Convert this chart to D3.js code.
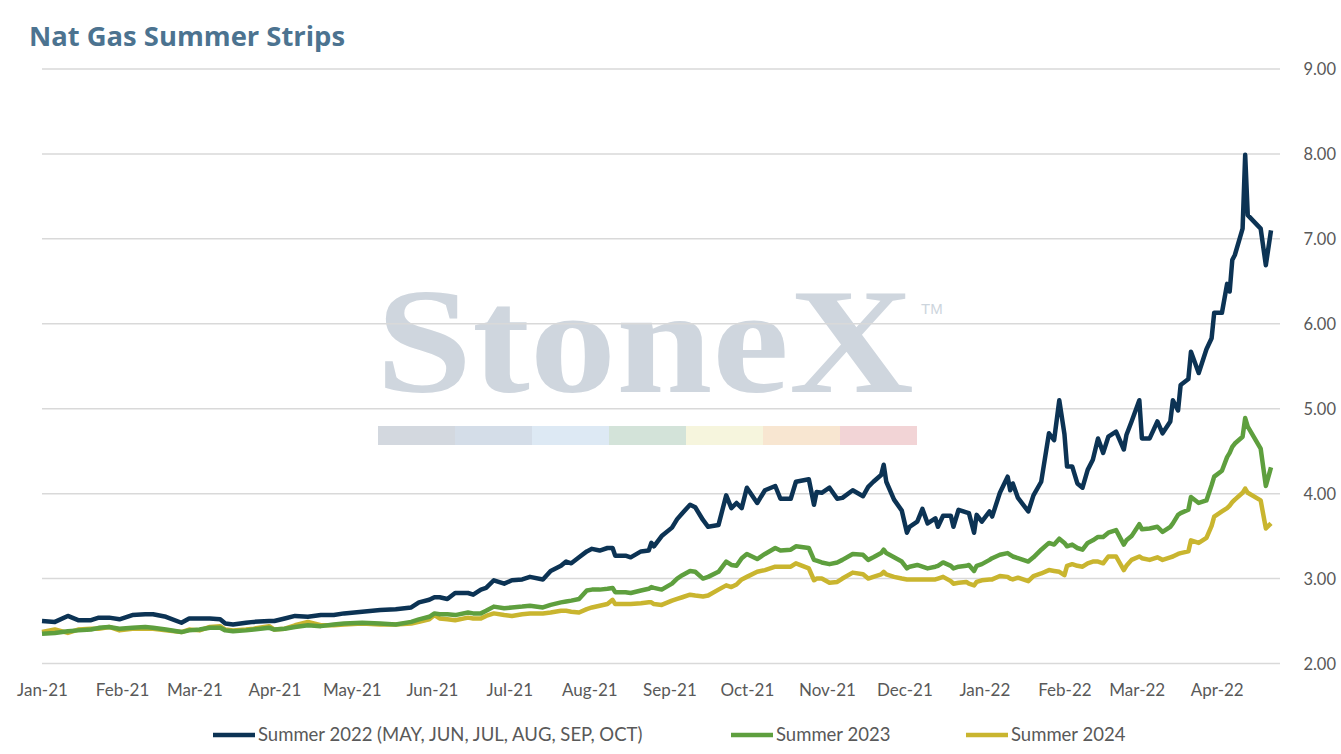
<!DOCTYPE html>
<html>
<head>
<meta charset="utf-8">
<script src="https://cdn.jsdelivr.net/npm/d3@7"></script>
<style>
  body { margin: 0; background: #fff; }
  svg { display: block; font-family: Lato, "Open Sans", sans-serif; }
</style>
</head>
<body>
<svg width="1341" height="754"></svg>
<script>
// day offsets from 1 Jan 2021 for each observation
var dayOffsets = [0,5,10,14,19,22,26,30,35,40,43,48,54,57,61,65,69,71,74,79,82,88,90,94,98,103,108,113,
  117,124,131,137,143,146,150,152,154,157,160,165,167,170,172,175,179,182,186,189,194,197,201,203,205,208,211,213,216,219,221,222,226,228,232,235,236,237,240,
  244,246,248,251,253,256,258,262,265,267,269,271,273,277,280,284,286,290,292,297,299,300,302,305,308,310,314,318,320,322,325,326,327,330,333,335,336,339,341,343,346,347,349,352,353,355,358,
  359,361,362,364,367,368,371,374,375,376,378,382,384,387,390,392,394,396,397,399,401,403,405,407,409,411,413,416,419,420,422,425,426,429,432,434,437,438,440,441,444,445,448,451,453,454,457,459,460,461,462,465,466,467,472,474,476];

var summer2022 = [2.50,2.49,2.56,2.51,2.51,2.54,2.54,2.52,2.57,2.58,2.58,2.55,2.48,2.53,2.53,2.53,2.52,2.47,2.46,2.48,2.49,2.50,2.50,2.53,2.56,2.55,2.57,2.57,
  2.59,2.61,2.63,2.64,2.66,2.72,2.75,2.78,2.78,2.76,2.83,2.83,2.81,2.87,2.89,2.98,2.94,2.98,2.99,3.02,2.99,3.09,3.15,3.20,3.18,3.25,3.32,3.35,3.33,3.36,3.36,3.27,3.27,3.25,3.32,3.33,3.42,3.38,3.50,
  3.60,3.70,3.77,3.87,3.84,3.69,3.61,3.63,3.98,3.83,3.89,3.83,4.07,3.89,4.04,4.09,3.94,3.94,4.14,4.17,3.87,4.02,4.01,4.07,3.94,3.95,4.04,3.97,4.08,4.14,4.22,4.34,4.14,3.93,3.80,3.54,3.61,3.67,3.82,3.65,3.71,3.61,3.74,3.74,3.61,3.81,3.78,
  3.77,3.54,3.75,3.67,3.79,3.73,4.01,4.20,4.04,4.12,3.95,3.79,3.98,4.14,4.71,4.63,5.10,4.70,4.32,4.32,4.12,4.07,4.28,4.40,4.65,4.48,4.67,4.73,4.52,4.69,4.85,5.10,4.65,4.65,4.85,4.71,4.85,5.10,4.98,5.28,5.35,5.67,5.42,5.70,5.83,6.13,6.13,6.47,6.38,6.75,6.81,7.12,7.99,7.28,7.12,6.69,7.10];

var summer2023 = [2.35,2.36,2.38,2.39,2.40,2.42,2.43,2.41,2.42,2.43,2.42,2.40,2.37,2.39,2.40,2.42,2.42,2.39,2.38,2.39,2.40,2.42,2.40,2.41,2.43,2.45,2.44,2.46,
  2.47,2.48,2.47,2.46,2.49,2.52,2.55,2.59,2.58,2.58,2.57,2.60,2.59,2.59,2.62,2.67,2.65,2.66,2.67,2.68,2.66,2.69,2.72,2.73,2.74,2.76,2.86,2.87,2.87,2.88,2.89,2.84,2.84,2.83,2.86,2.88,2.90,2.89,2.87,
  2.94,3.00,3.04,3.09,3.08,3.00,3.02,3.08,3.20,3.16,3.15,3.24,3.29,3.23,3.29,3.36,3.33,3.34,3.38,3.36,3.22,3.21,3.19,3.17,3.19,3.22,3.29,3.28,3.22,3.25,3.30,3.34,3.30,3.25,3.20,3.12,3.14,3.16,3.14,3.12,3.14,3.15,3.19,3.15,3.12,3.14,3.15,
  3.16,3.09,3.15,3.17,3.22,3.24,3.28,3.30,3.28,3.26,3.24,3.20,3.25,3.34,3.42,3.40,3.47,3.42,3.38,3.40,3.36,3.34,3.42,3.45,3.49,3.49,3.54,3.57,3.40,3.45,3.50,3.64,3.58,3.59,3.61,3.55,3.61,3.65,3.75,3.77,3.81,3.96,3.89,3.92,4.10,4.20,4.27,4.43,4.48,4.55,4.59,4.67,4.89,4.79,4.53,4.09,4.31];

var summer2024 = [2.37,2.40,2.36,2.40,2.41,2.41,2.43,2.39,2.41,2.41,2.41,2.39,2.37,2.40,2.39,2.43,2.44,2.40,2.39,2.40,2.41,2.44,2.40,2.41,2.45,2.49,2.45,2.45,
  2.46,2.47,2.46,2.46,2.47,2.49,2.52,2.57,2.53,2.52,2.51,2.54,2.53,2.53,2.56,2.59,2.57,2.56,2.58,2.59,2.59,2.60,2.62,2.62,2.61,2.60,2.64,2.66,2.68,2.70,2.75,2.70,2.70,2.70,2.71,2.72,2.72,2.70,2.69,
  2.74,2.76,2.78,2.81,2.80,2.79,2.80,2.87,2.92,2.90,2.93,2.99,3.02,3.08,3.10,3.14,3.14,3.14,3.18,3.12,2.98,3.00,3.00,2.95,2.96,3.00,3.07,3.05,3.00,3.02,3.05,3.08,3.05,3.02,3.00,2.99,2.99,2.99,2.99,2.99,2.99,3.00,3.02,2.97,2.94,2.95,2.96,
  2.94,2.92,2.96,2.98,2.99,2.99,3.03,3.02,3.00,2.99,3.01,2.97,3.03,3.06,3.10,3.09,3.08,3.04,3.15,3.17,3.15,3.14,3.18,3.20,3.20,3.18,3.26,3.26,3.10,3.15,3.22,3.26,3.24,3.22,3.25,3.22,3.25,3.26,3.29,3.30,3.32,3.45,3.42,3.48,3.62,3.73,3.79,3.83,3.86,3.90,3.93,4.01,4.06,4.01,3.92,3.59,3.65];

var seriesNames = ["Summer 2022 (MAY, JUN, JUL, AUG, SEP, OCT)", "Summer 2023", "Summer 2024"];
var seriesColors = ["#0c3354", "#5e9f3e", "#c9b52f"];
var monthLabels = ["Jan-21","Feb-21","Mar-21","Apr-21","May-21","Jun-21","Jul-21","Aug-21","Sep-21","Oct-21","Nov-21","Dec-21","Jan-22","Feb-22","Mar-22","Apr-22"];
var yTicks = [2, 3, 4, 5, 6, 7, 8, 9];

var svg = d3.select("svg");
var start = new Date(2021, 0, 1);
var dates = dayOffsets.map(function(d) { return d3.timeDay.offset(start, d); });

var x = d3.scaleTime()
    .domain([start, d3.timeDay.offset(start, 476)])
    .range([42, 1271]);
var y = d3.scaleLinear().domain([2, 9]).range([663.5, 69]);

// title
svg.append("text")
    .attr("x", 29).attr("y", 46)
    .attr("font-family", "'Open Sans', sans-serif")
    .attr("font-size", 26).attr("font-weight", "bold")
    .attr("textLength", 316).attr("lengthAdjust", "spacingAndGlyphs")
    .attr("fill", "#4c7390")
    .text("Nat Gas Summer Strips");

// StoneX watermark behind the grid
var wm = svg.append("g");
wm.append("text")
    .attr("x", 376).attr("y", 392)
    .attr("font-family", "'Liberation Serif', 'DejaVu Serif', serif")
    .attr("font-size", 150).attr("font-weight", "bold")
    .attr("textLength", 538).attr("lengthAdjust", "spacingAndGlyphs")
    .attr("fill", "#cfd6de")
    .text("StoneX");
wm.append("text")
    .attr("x", 921).attr("y", 314)
    .attr("font-family", "'Liberation Sans', sans-serif")
    .attr("font-size", 15)
    .attr("fill", "#cdd5dd")
    .text("TM");
var bandColors = ["#d3d8df", "#d4dde8", "#dde9f4", "#d3e3d9", "#f6f5dd", "#f8e6d1", "#f2d4d6"];
wm.selectAll("rect").data(bandColors).enter().append("rect")
    .attr("x", function(d, i) { return 378 + i * 77; })
    .attr("y", 426).attr("width", 77).attr("height", 19)
    .attr("fill", function(d) { return d; });

// gridlines + right axis labels
svg.append("g").selectAll("line").data(yTicks).enter().append("line")
    .attr("x1", 42).attr("x2", 1280)
    .attr("y1", function(d) { return y(d); })
    .attr("y2", function(d) { return y(d); })
    .attr("stroke", "#d9d9d9").attr("stroke-width", 1.5);

svg.append("g").selectAll("text").data(yTicks).enter().append("text")
    .attr("x", 1336).attr("y", function(d) { return y(d) + 6; })
    .attr("text-anchor", "end")
    .attr("font-size", 16.5).attr("fill", "#595959")
    .text(function(d) { return d.toFixed(2); });

// x axis labels at month starts
var monthTicks = d3.timeMonth.range(start, new Date(2022, 4, 1));
var xAxis = svg.append("g")
    .attr("transform", "translate(0,663.5)")
    .call(d3.axisBottom(x).tickValues(monthTicks).tickSize(0)
      .tickFormat(function(d, i) { return monthLabels[i]; }));
xAxis.select(".domain").remove();
xAxis.selectAll("text")
    .attr("dy", 0).attr("y", 32)
    .attr("font-family", "Lato, sans-serif")
    .attr("font-size", 17).attr("fill", "#595959");

// the three strips
var allSeries = [summer2022, summer2023, summer2024];
var line = d3.line()
    .x(function(d, i) { return x(dates[i]); })
    .y(function(d) { return y(d); });

svg.append("g").selectAll("path").data(allSeries.slice().reverse()).enter().append("path")
    .attr("d", line)
    .attr("fill", "none")
    .attr("stroke", function(d, i) { return seriesColors[2 - i]; })
    .attr("stroke-width", 4.5)
    .attr("stroke-linejoin", "round");

// legend
var legendX = [213, 731, 966];
var legend = svg.append("g").selectAll("g").data(seriesNames).enter().append("g")
    .attr("transform", function(d, i) { return "translate(" + legendX[i] + ",735)"; });
legend.append("line")
    .attr("x1", 0).attr("x2", 42)
    .attr("stroke", function(d, i) { return seriesColors[i]; })
    .attr("stroke-width", 4.5);
legend.append("text")
    .attr("x", 45).attr("y", 6)
    .attr("font-size", 18.5).attr("fill", "#595959")
    .text(function(d) { return d; });
</script>
</body>
</html>
